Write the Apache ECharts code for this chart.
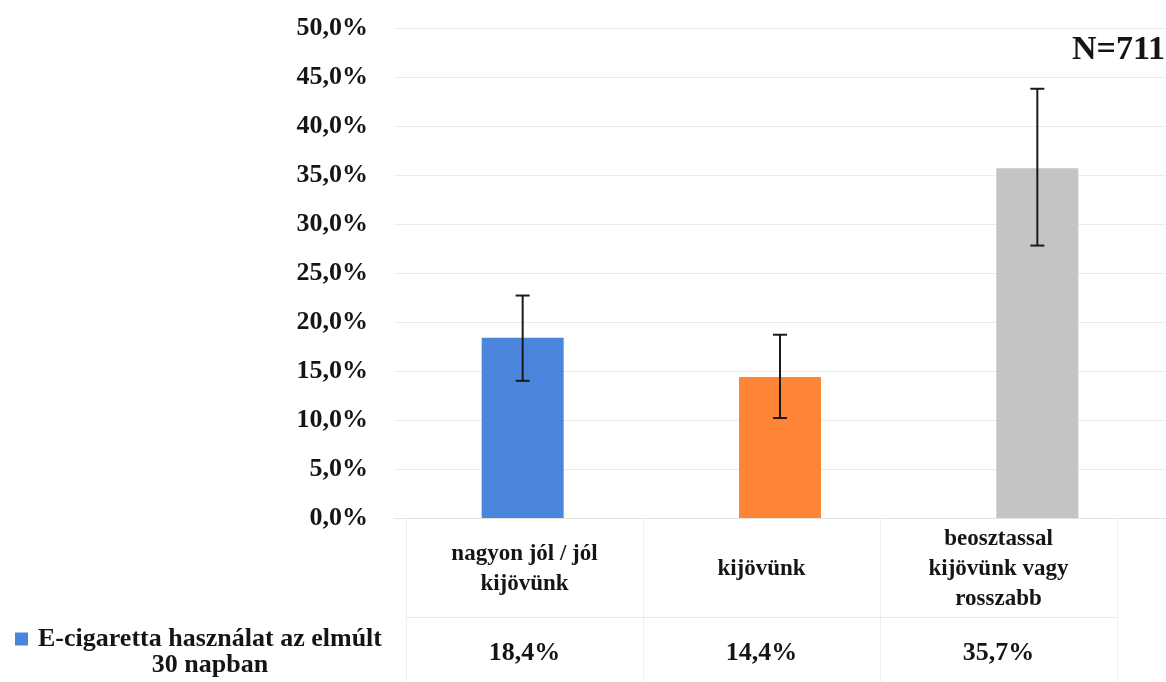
<!DOCTYPE html>
<html>
<head>
<meta charset="utf-8">
<script src="https://cdn.jsdelivr.net/npm/echarts@6/dist/echarts.min.js"></script>
<style>
  html, body { margin: 0; padding: 0; background: #fff; }
  #main { width: 1166px; height: 682px; }
</style>
</head>
<body>
<div id="main"></div>
<script>
var categories = ['nagyon jól / jól\nkijövünk', 'kijövünk', 'beosztassal\nkijövünk vagy\nrosszabb'];
var values = [18.4, 14.4, 35.7];
var errLow = [14.0, 10.2, 27.8];
var errHigh = [22.7, 18.7, 43.8];
var barColors = ['#4a87dc', '#fd8535', '#c2c5c2'];
var seriesName = 'E-cigaretta használat az elmúlt 30 napban';
var sampleLabel = 'N=711';

var serif = 'Liberation Serif';
var ink = '#151515';

function fmt(v) {
  return v.toFixed(1).replace('.', ',') + '%';
}

var chart = echarts.init(document.getElementById('main'));

var option = {
  animation: false,
  backgroundColor: '#fff',
  title: {
    text: sampleLabel,
    right: -4,
    top: 28,
    textStyle: { fontFamily: serif, fontWeight: 'bold', fontSize: 34, color: ink }
  },
  legend: {
    left: 15,
    top: 626,
    padding: 0,
    icon: 'rect',
    itemWidth: 13,
    itemHeight: 13,
    itemGap: 0,
    data: [seriesName],
    formatter: function () {
      return '{t|E-cigaretta használat az elmúlt}\n{t|30 napban}';
    },
    textStyle: {
      fontFamily: serif, fontWeight: 'bold', fontSize: 26, color: ink,
      padding: [26, 0, 0, 0],
      rich: {
        t: { fontFamily: serif, fontWeight: 'bold', fontSize: 26, color: ink, width: 354, align: 'center', lineHeight: 26 }
      }
    }
  },
  grid: [
    { left: 394, top: 28, width: 785, height: 490 },
    { left: 406, top: 518, width: 711, height: 164 }
  ],
  xAxis: [
    {
      type: 'category', gridIndex: 0, data: categories,
      axisLine: { lineStyle: { color: '#e4e4e4' } },
      axisTick: { show: false },
      axisLabel: { show: false }
    },
    {
      type: 'category', gridIndex: 1, position: 'top', data: categories,
      axisLine: { show: false },
      axisTick: { show: false },
      splitLine: { show: true, lineStyle: { color: '#f0f0f0' } },
      axisLabel: {
        inside: true, margin: 51, verticalAlign: 'middle',
        fontFamily: serif, fontWeight: 'bold', fontSize: 23, lineHeight: 30, color: ink
      }
    },
    {
      type: 'category', gridIndex: 1, position: 'bottom', offset: -65,
      data: values.map(fmt),
      axisLine: { lineStyle: { color: '#e8e8e8' } },
      axisTick: { show: false },
      axisLabel: {
        margin: 36, verticalAlign: 'middle',
        fontFamily: serif, fontWeight: 'bold', fontSize: 26, color: ink
      }
    }
  ],
  yAxis: [
    {
      type: 'value', gridIndex: 0, min: 0, max: 50, interval: 5,
      axisLine: { show: false },
      axisTick: { show: false },
      splitLine: { lineStyle: { color: '#ececec' } },
      axisLabel: {
        formatter: function (v) { return fmt(v); },
        margin: 26, fontFamily: serif, fontWeight: 'bold', fontSize: 26, color: ink
      }
    },
    { type: 'value', gridIndex: 1, show: false }
  ],
  series: [
    {
      name: seriesName,
      type: 'bar',
      xAxisIndex: 0, yAxisIndex: 0,
      barWidth: 82,
      itemStyle: { color: barColors[0] },
      data: values.map(function (v, i) {
        return { value: v, itemStyle: { color: barColors[i] } };
      })
    },
    {
      type: 'custom',
      xAxisIndex: 0, yAxisIndex: 0,
      encode: { x: 0, y: [1, 2] },
      data: errLow.map(function (lo, i) { return [i, lo, errHigh[i]]; }),
      renderItem: function (params, api) {
        var i = api.value(0);
        var lo = api.coord([i, api.value(1)]);
        var hi = api.coord([i, api.value(2)]);
        var hw = 7;
        var st = { stroke: '#1a1a1a', lineWidth: 2 };
        return {
          type: 'group',
          children: [
            { type: 'line', shape: { x1: lo[0], y1: lo[1], x2: hi[0], y2: hi[1] }, style: st },
            { type: 'line', shape: { x1: lo[0] - hw, y1: lo[1], x2: lo[0] + hw, y2: lo[1] }, style: st },
            { type: 'line', shape: { x1: hi[0] - hw, y1: hi[1], x2: hi[0] + hw, y2: hi[1] }, style: st }
          ]
        };
      },
      z: 5
    }
  ]
};

chart.setOption(option);
</script>
</body>
</html>
